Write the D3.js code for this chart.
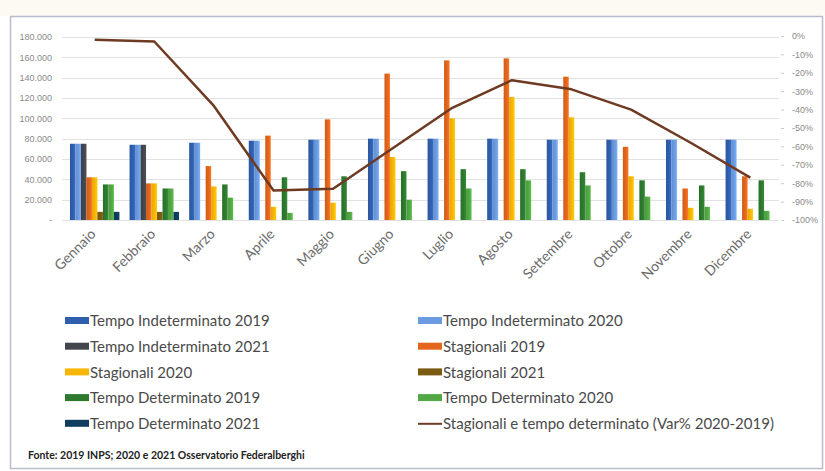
<!DOCTYPE html>
<meta charset="utf-8">
<title>Stagionali e tempo determinato</title>
<style>
    body { margin: 0; background: #fff; }
    svg { display: block; font-family: Lato, "Open Sans", sans-serif; }
    .grid line { stroke: #e2e2e2; stroke-width: 1; }
    .axis text { fill: #8a8a8a; font-size: 9px; }
    .axis path { display: none; }
    .xlab { fill: #6a6a6a; font-size: 14px; }
    .legend text { fill: #4a4a4a; font-size: 15px; }
    .source { fill: #222; font-size: 10.5px; font-weight: bold; }
</style>
<svg width="825" height="471"></svg>
<script src="https://cdn.jsdelivr.net/npm/d3@7"></script>
<script>

    // data
    var months = ["Gennaio", "Febbraio", "Marzo", "Aprile", "Maggio", "Giugno",
                  "Luglio", "Agosto", "Settembre", "Ottobre", "Novembre", "Dicembre"];

    var tempoIndet2019 = [75000, 74000, 76000, 78000, 79000, 80000, 80000, 80000, 79000, 79000, 79000, 79000];
    var tempoIndet2020 = [75000, 74000, 76000, 78000, 79000, 80000, 80000, 80000, 79000, 79000, 79000, 79000];
    var tempoIndet2021 = [75000, 74000, null, null, null, null, null, null, null, null, null, null];
    var stagionali2019 = [42000, 36000, 53000, 83000, 99000, 144000, 157000, 159000, 141000, 72000, 31000, 43000];
    var stagionali2020 = [42000, 36000, 33000, 13000, 17000, 62000, 100000, 121000, 101000, 43000, 12000, 11000];
    var stagionali2021 = [8000, 8000, null, null, null, null, null, null, null, null, null, null];
    var tempoDet2019 = [35000, 31000, 35000, 42000, 43000, 48000, 50000, 50000, 47000, 39000, 34000, 39000];
    var tempoDet2020 = [35000, 31000, 22000, 7000, 8000, 20000, 31000, 39000, 34000, 23000, 13000, 9000];
    var tempoDet2021 = [8000, 8000, null, null, null, null, null, null, null, null, null, null];
    var varPct = [-2, -3, -38, -84, -83, -61, -39, -24, -29, -40, -58, -77];

    var leftTicks = [0, 20000, 40000, 60000, 80000, 100000, 120000, 140000, 160000, 180000];
    var rightTicks = [0, -10, -20, -30, -40, -50, -60, -70, -80, -90, -100];

    var series = [
        {name: "Tempo Indeterminato 2019", values: tempoIndet2019, color: "#2f5fae"},
        {name: "Tempo Indeterminato 2020", values: tempoIndet2020, color: "#6b9be0"},
        {name: "Tempo Indeterminato 2021", values: tempoIndet2021, color: "#43474d"},
        {name: "Stagionali 2019", values: stagionali2019, color: "#e2661c"},
        {name: "Stagionali 2020", values: stagionali2020, color: "#f8b606"},
        {name: "Stagionali 2021", values: stagionali2021, color: "#7b5a12"},
        {name: "Tempo Determinato 2019", values: tempoDet2019, color: "#2d7a2f"},
        {name: "Tempo Determinato 2020", values: tempoDet2020, color: "#52a844"},
        {name: "Tempo Determinato 2021", values: tempoDet2021, color: "#0f3d5e"}
    ];
    var lineName = "Stagionali e tempo determinato (Var% 2020-2019)";
    var lineColor = "#6e3a22";

    var svg = d3.select("svg");

    // frame
    svg.append("rect").attr("x", 0).attr("y", 0).attr("width", 825).attr("height", 16)
        .attr("fill", "#fdfaf4");
    svg.append("rect").attr("x", 10.5).attr("y", 16.5).attr("width", 812).attr("height", 452)
        .attr("fill", "#fff").attr("stroke", "#b8bccb").attr("stroke-width", 1.5);

    var x0 = d3.scaleBand().domain(months).range([64, 781]).paddingInner(0.17).paddingOuter(0.1);
    var x1 = d3.scaleBand().domain(d3.range(series.length)).range([0, x0.bandwidth()]);
    var yL = d3.scaleLinear().domain([0, 180000]).range([220, 37]);
    var yR = d3.scaleLinear().domain([-100, 0]).range([220, 36]);

    var itFormat = d3.formatLocale({decimal: ",", thousands: ".", grouping: [3], currency: ["€", ""]});
    var fmtL = itFormat.format(",.0f");

    // gridlines
    svg.append("g").attr("class", "grid")
        .selectAll("line").data(leftTicks).join("line")
        .attr("x1", 62).attr("x2", 779)
        .attr("y1", function(d) { return Math.round(yL(d)) + 0.5; })
        .attr("y2", function(d) { return Math.round(yL(d)) + 0.5; });

    // axes
    svg.append("g").attr("class", "axis")
        .attr("transform", "translate(56,0)")
        .call(d3.axisLeft(yL).tickValues(leftTicks).tickSize(0).tickPadding(4)
            .tickFormat(function(d) { return d === 0 ? "-" : fmtL(d); }));

    svg.append("g").attr("class", "axis")
        .attr("transform", "translate(781,0)")
        .call(d3.axisRight(yR).tickValues(rightTicks).tickSize(3).tickPadding(8)
            .tickFormat(function(d) { return d + "%"; }))
        .call(function(g) { g.selectAll("line").attr("stroke", "#ccc"); });

    // gradients for bars
    var defs = svg.append("defs");
    series.forEach(function(s, i) {
        var g = defs.append("linearGradient").attr("id", "g" + i)
            .attr("x1", 0).attr("x2", 1).attr("y1", 0).attr("y2", 0);
        g.append("stop").attr("offset", "0%").attr("stop-color", d3.color(s.color).darker(0.25));
        g.append("stop").attr("offset", "55%").attr("stop-color", s.color);
        g.append("stop").attr("offset", "100%").attr("stop-color", d3.color(s.color).brighter(0.35));
    });

    // bars
    var groups = svg.append("g").selectAll("g").data(months).join("g")
        .attr("transform", function(d) { return "translate(" + x0(d) + ",0)"; });

    groups.selectAll("rect")
        .data(function(m, mi) {
            return series.map(function(s, si) { return {si: si, v: s.values[mi]}; })
                .filter(function(d) { return d.v != null; });
        })
        .join("rect")
        .attr("x", function(d) { return x1(d.si); })
        .attr("width", x1.bandwidth())
        .attr("y", function(d) { return yL(d.v); })
        .attr("height", function(d) { return yL(0) - yL(d.v); })
        .attr("fill", function(d) { return "url(#g" + d.si + ")"; });

    // variation line
    var line = d3.line()
        .x(function(d, i) { return x0(months[i]) + x0.bandwidth() / 2; })
        .y(function(d) { return yR(d); });

    svg.append("path").datum(varPct)
        .attr("d", line)
        .attr("fill", "none")
        .attr("stroke", lineColor)
        .attr("stroke-width", 2.5)
        .attr("stroke-linejoin", "round");

    // month labels
    svg.append("g").selectAll("text").data(months).join("text")
        .attr("class", "xlab")
        .attr("text-anchor", "end")
        .attr("transform", function(d) {
            return "translate(" + (x0(d) + x0.bandwidth() / 2 + 2) + ",235) rotate(-45)";
        })
        .text(function(d) { return d; });

    // legend
    var legendItems = series.map(function(s) { return {name: s.name, color: s.color, type: "bar"}; });
    legendItems.push({name: lineName, color: lineColor, type: "line"});

    var legend = svg.append("g").attr("class", "legend")
        .selectAll("g").data(legendItems).join("g")
        .attr("transform", function(d, i) {
            var col = i % 2, row = Math.floor(i / 2);
            return "translate(" + (col === 0 ? 65 : 418) + "," + (321 + row * 25.7) + ")";
        });

    legend.filter(function(d) { return d.type === "bar"; }).append("rect")
        .attr("x", 0).attr("y", -4).attr("width", 24).attr("height", 7)
        .attr("fill", function(d) { return d.color; });

    legend.filter(function(d) { return d.type === "line"; }).append("line")
        .attr("x1", 0).attr("x2", 24).attr("y1", 0).attr("y2", 0)
        .attr("stroke", function(d) { return d.color; }).attr("stroke-width", 2);

    legend.append("text")
        .attr("x", 25).attr("dy", "0.35em")
        .text(function(d) { return d.name; });

    // source
    svg.append("text").attr("class", "source")
        .attr("x", 28).attr("y", 459)
        .text("Fonte: 2019 INPS; 2020 e 2021 Osservatorio Federalberghi");

</script>
